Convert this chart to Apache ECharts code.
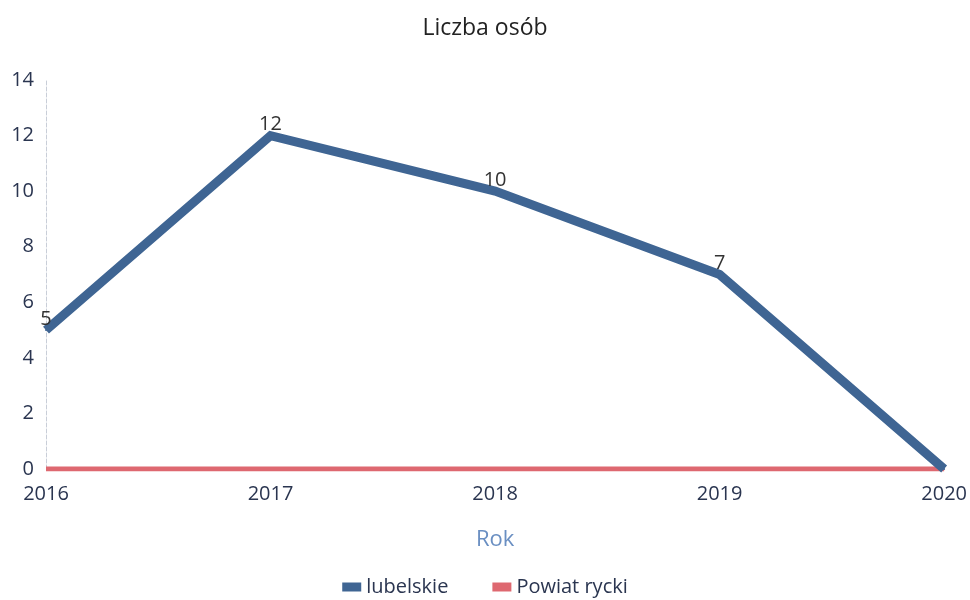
<!DOCTYPE html>
<html>
<head>
<meta charset="utf-8">
<script src="https://cdn.jsdelivr.net/npm/echarts@6/dist/echarts.min.js"></script>
<style>
  html, body { margin: 0; padding: 0; background: #fff; }
  #chart { width: 970px; height: 600px; }
</style>
</head>
<body>
<div id="chart"></div>
<script>
// dane
const years = ['2016', '2017', '2018', '2019', '2020'];
const lubelskie = [5, 12, 10, 7, 0];
const powiatRycki = [0, 0, 0, 0, 0];
const yTicks = [0, 2, 4, 6, 8, 10, 12, 14];

const chart = echarts.init(document.getElementById('chart'));

const option = {
    backgroundColor: '#ffffff',
    textStyle: { fontFamily: 'Open Sans' },
    title: {
        text: 'Liczba osób',
        left: 'center',
        top: 12,
        textStyle: { fontSize: 23, fontWeight: 'normal', color: '#222222', fontFamily: 'Open Sans' }
    },
    legend: {
        top: 572,
        left: 'center',
        itemWidth: 19,
        itemHeight: 9,
        itemGap: 44,
        icon: 'rect',
        textStyle: { fontSize: 20, color: '#2a3550' },
        data: ['lubelskie', 'Powiat rycki']
    },
    grid: { left: 46, right: 25, top: 80, bottom: 131 },
    xAxis: {
        type: 'category',
        data: years,
        boundaryGap: false,
        name: 'Rok',
        nameLocation: 'middle',
        nameGap: 60,
        nameTextStyle: { fontSize: 22, color: '#6a8fc2' },
        axisLine: { show: false },
        axisTick: { show: false },
        axisLabel: { fontSize: 20, color: '#2a3550', margin: 15 }
    },
    yAxis: {
        type: 'value',
        min: yTicks[0],
        max: yTicks[yTicks.length - 1],
        interval: 2,
        axisLine: { show: true, lineStyle: { color: '#c9ced8', type: 'dashed', width: 1 } },
        axisTick: { show: false },
        splitLine: { show: false },
        axisLabel: { fontSize: 20, color: '#2a3550', margin: 12 }
    },
    series: [
        {
            name: 'lubelskie',
            type: 'line',
            data: lubelskie,
            color: '#3f6593',
            symbol: 'circle',
            symbolSize: 2,
            itemStyle: { color: '#3f6593' },
            z: 3,
            lineStyle: { width: 9, color: '#3f6593', join: 'miter' },
            label: {
                show: true,
                position: 'top',
                distance: 0,
                fontSize: 20,
                color: '#333333',
                formatter: p => (p.value === 0 ? '' : p.value)
            }
        },
        {
            name: 'Powiat rycki',
            type: 'line',
            data: powiatRycki,
            color: '#de6870',
            symbol: 'none',
            z: 2,
            lineStyle: { width: 5, color: '#de6870' }
        }
    ]
};

chart.setOption(option);
</script>
</body>
</html>
